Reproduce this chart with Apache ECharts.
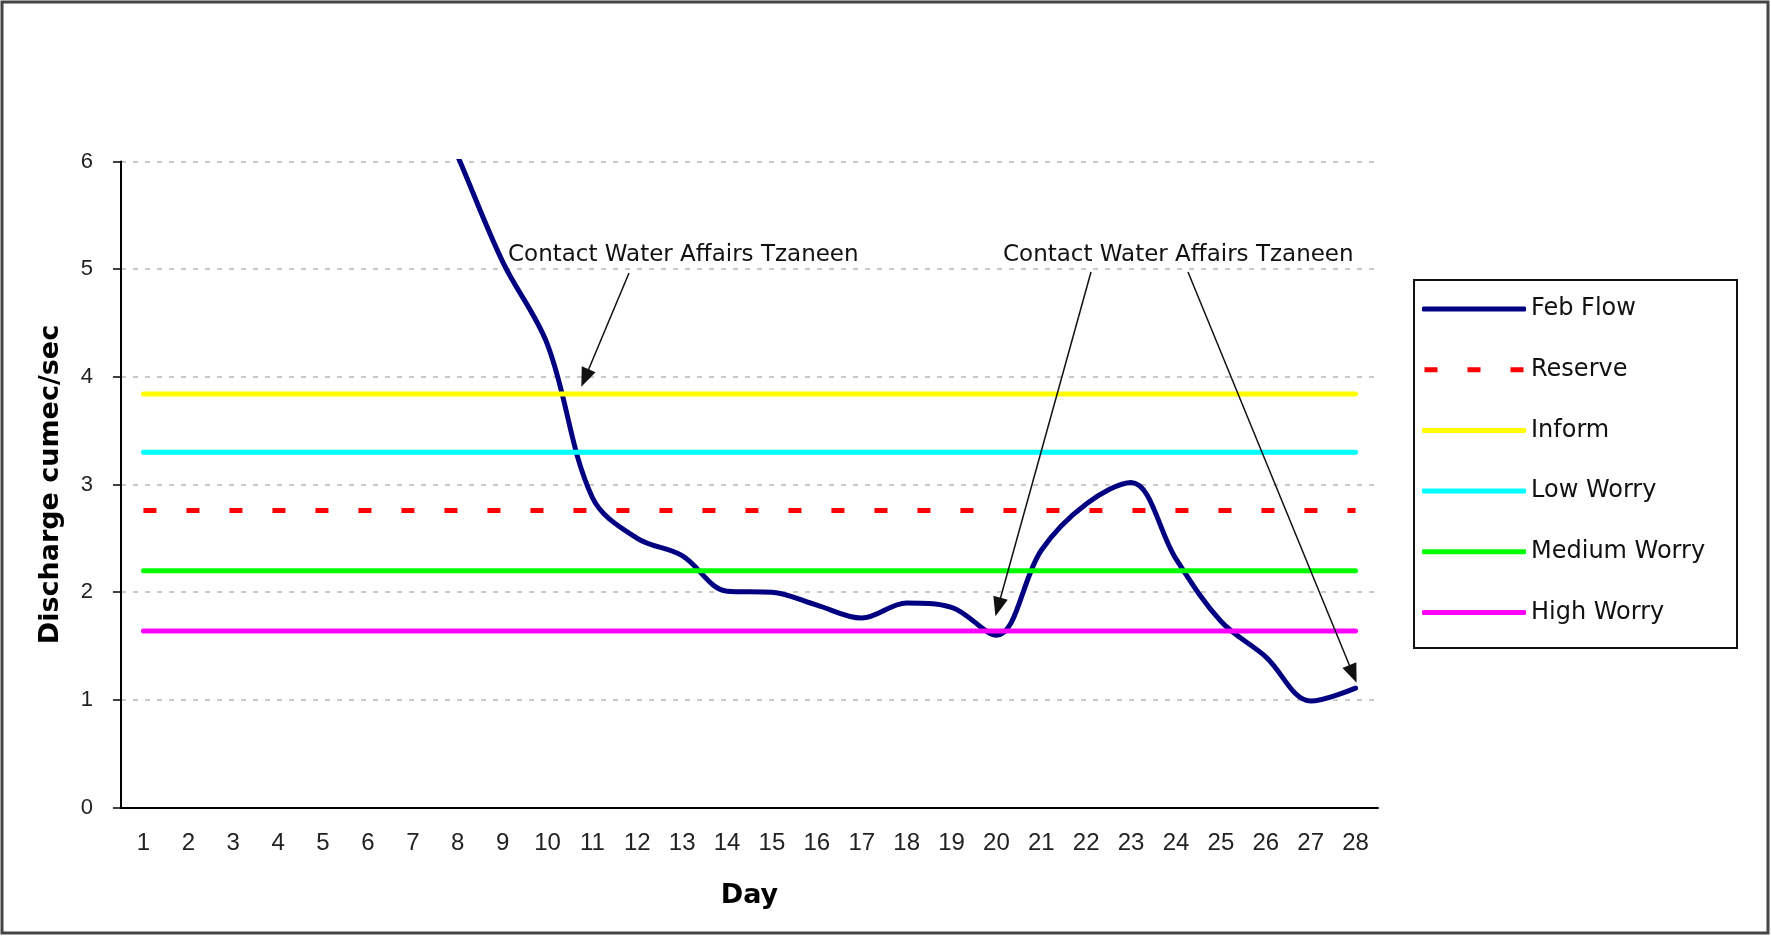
<!DOCTYPE html>
<html>
<head>
<meta charset="utf-8">
<title>Feb Flow</title>
<script src="https://cdn.jsdelivr.net/npm/echarts@6/dist/echarts.min.js"></script>
<style>
  html, body { margin: 0; padding: 0; background: #fff; }
  #chart { width: 1771px; height: 937px; }
</style>
</head>
<body>
<div id="chart"></div>
<script>
// x categories
var days = ['1', '2', '3', '4', '5', '6', '7', '8', '9', '10', '11', '12', '13', '14',
            '15', '16', '17', '18', '19', '20', '21', '22', '23', '24', '25', '26', '27', '28'];

// Feb flow, cumec/sec (days 1-6 are off the top of the chart and not readable)
var febFlow = [null, null, null, null, null, null, 7.0, 6.05, 5.07, 4.3, 2.88, 2.5, 2.34, 2.01,
               2.0, 1.88, 1.76, 1.9, 1.86, 1.6, 2.39, 2.82, 3.02, 2.31, 1.73, 1.4, 0.99, 1.11];

// threshold levels
var reserve = 2.76;
var inform = 3.84;
var lowWorry = 3.3;
var mediumWorry = 2.2;
var highWorry = 1.64;

// y axis
var yMin = 0;
var yMax = 6;
var yStep = 1;

var noteText = 'Contact Water Affairs Tzaneen';

// dashed legend swatch for Reserve
var dashIcon = 'path://M0,0h13v5h-13zM43,0h13v5h-13zM86,0h13v5h-13z';

function level(v) {
      return days.map(function () { return v; });
}

function levelSeries(name, v, color, dashed) {
      return {
            name: name,
            type: 'line',
            data: level(v),
            symbol: 'none',
            silent: true,
            animation: false,
            lineStyle: {
                  color: color,
                  width: 5,
                  type: dashed ? [13, 30] : 'solid',
                  cap: dashed ? 'butt' : 'round'
            },
            itemStyle: { color: color }
      };
}

var chart = echarts.init(document.getElementById('chart'));

chart.setOption({
      backgroundColor: '#ffffff',
      animation: false,
      grid: {
            left: 121,
            right: 393,
            top: 161.5,
            bottom: 129.4
      },
      legend: {
            orient: 'vertical',
            left: 1422,
            top: 297,
            padding: 0,
            icon: 'roundRect',
            itemWidth: 104,
            itemHeight: 5,
            itemGap: 36.7,
            selectedMode: false,
            textStyle: {
                  fontFamily: 'DejaVu Sans',
                  fontSize: 24,
                  color: '#111'
            },
            data: [
                  { name: 'Feb Flow' },
                  { name: 'Reserve', icon: dashIcon },
                  { name: 'Inform' },
                  { name: 'Low Worry' },
                  { name: 'Medium Worry' },
                  { name: 'High Worry' }
            ]
      },
      xAxis: {
            type: 'category',
            data: days,
            boundaryGap: true,
            name: 'Day',
            nameLocation: 'middle',
            nameGap: 75,
            nameTextStyle: {
                  fontFamily: 'DejaVu Sans',
                  fontWeight: 'bold',
                  fontSize: 27,
                  color: '#000'
            },
            axisLine: { lineStyle: { color: '#000', width: 2 } },
            axisTick: { interval: 0, length: 8, lineStyle: { color: '#000', width: 1.5 } },
            axisLabel: {
                  interval: 0,
                  margin: 24,
                  fontFamily: 'Liberation Sans',
                  fontSize: 24,
                  color: '#222'
            },
            splitLine: { show: false }
      },
      yAxis: {
            type: 'value',
            min: yMin,
            max: yMax,
            interval: yStep,
            name: 'Discharge cumec/sec',
            nameLocation: 'middle',
            nameGap: 57,
            nameTextStyle: {
                  fontFamily: 'DejaVu Sans',
                  fontWeight: 'bold',
                  fontSize: 27,
                  color: '#000'
            },
            axisLine: { show: true, lineStyle: { color: '#000', width: 2 } },
            axisTick: { show: true, length: 8, lineStyle: { color: '#000', width: 1.5 } },
            axisLabel: {
                  margin: 28,
                  fontFamily: 'Liberation Sans',
                  fontSize: 22,
                  color: '#222'
            },
            splitLine: {
                  show: true,
                  lineStyle: { color: '#b8b8b8', width: 1.5, type: [5, 7] }
            }
      },
      series: [
            {
                  name: 'Feb Flow',
                  type: 'line',
                  data: febFlow,
                  smooth: 0.35,
                  symbol: 'none',
                  clip: true,
                  connectNulls: false,
                  animation: false,
                  lineStyle: { color: '#000080', width: 5, cap: 'round' },
                  itemStyle: { color: '#000080' },
                  // arrows from the notes
                  markLine: {
                        silent: true,
                        animation: false,
                        symbol: ['none', 'triangle'],
                        symbolSize: [15, 19],
                        label: { show: false },
                        lineStyle: { color: '#111', width: 1.5, type: 'solid' },
                        data: [
                              [{ x: 629, y: 273 }, { x: 585, y: 378 }],
                              [{ x: 1091, y: 272 }, { x: 998, y: 607 }],
                              [{ x: 1188, y: 272 }, { x: 1353, y: 674 }]
                        ]
                  }
            },
            levelSeries('Reserve', reserve, '#ff0000', true),
            levelSeries('Inform', inform, '#ffff00', false),
            levelSeries('Low Worry', lowWorry, '#00ffff', false),
            levelSeries('Medium Worry', mediumWorry, '#00ff00', false),
            levelSeries('High Worry', highWorry, '#ff00ff', false)
      ],
      graphic: [
            {
                  type: 'rect',
                  silent: true,
                  shape: { x: 2, y: 2, width: 1766, height: 931 },
                  style: { fill: 'none', stroke: '#444', lineWidth: 3 }
            },
            {
                  type: 'rect',
                  silent: true,
                  shape: { x: 1414, y: 280, width: 323, height: 368 },
                  style: { fill: 'none', stroke: '#111', lineWidth: 2 }
            },
            {
                  type: 'text',
                  silent: true,
                  x: 508,
                  y: 255,
                  style: {
                        text: noteText,
                        fontFamily: 'DejaVu Sans',
                        fontSize: 23,
                        fill: '#111',
                        align: 'left',
                        verticalAlign: 'middle'
                  }
            },
            {
                  type: 'text',
                  silent: true,
                  x: 1003,
                  y: 255,
                  style: {
                        text: noteText,
                        fontFamily: 'DejaVu Sans',
                        fontSize: 23,
                        fill: '#111',
                        align: 'left',
                        verticalAlign: 'middle'
                  }
            }
      ]
});
</script>
</body>
</html>
